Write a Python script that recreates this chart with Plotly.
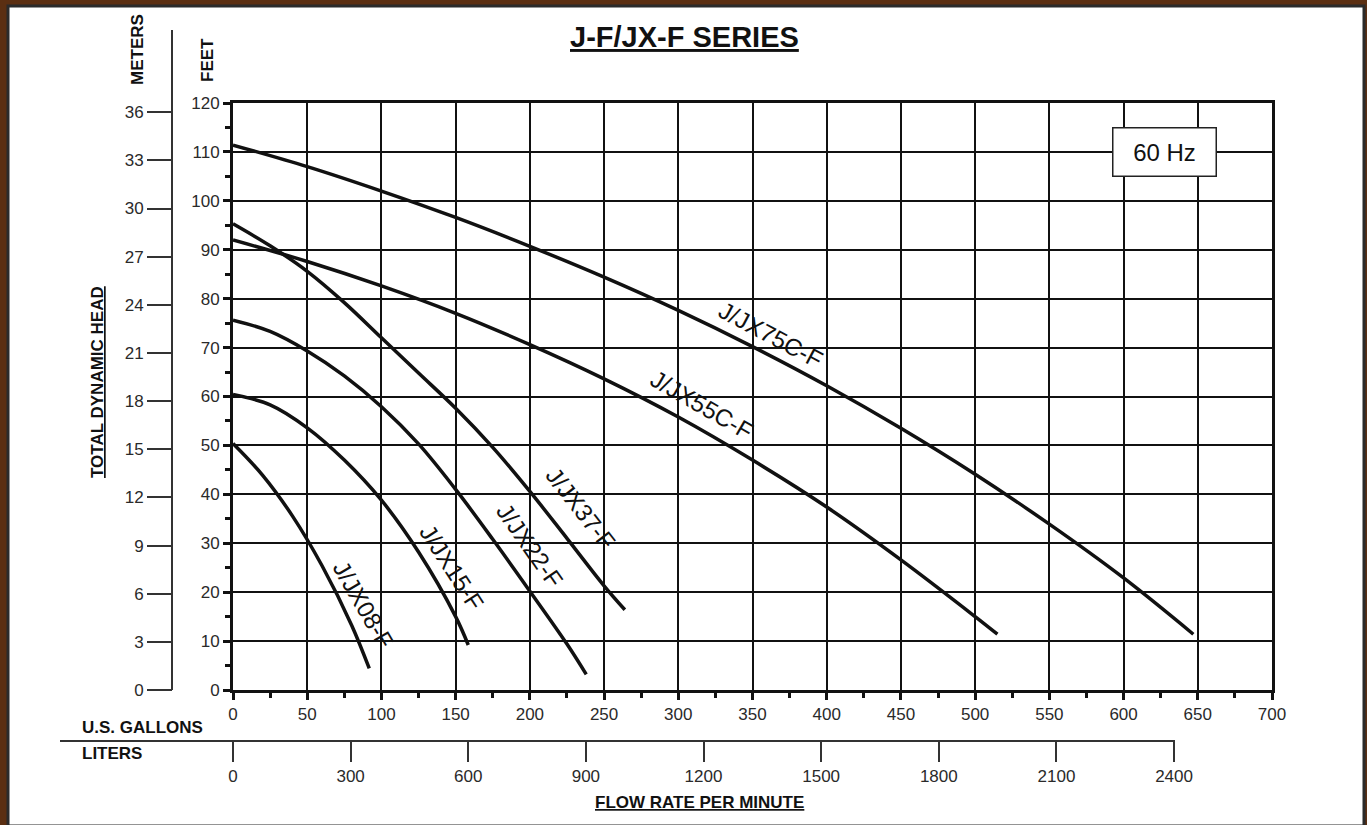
import plotly.graph_objects as go

# ---------------- data (US gallons per minute vs feet of head) ----------------
gal_75c = [0, 50, 100, 150, 200, 250, 300, 350, 400, 450, 500, 550, 600, 647]
ft_75c = [111.4, 107.0, 102.0, 96.6, 90.7, 84.4, 77.6, 70.2, 62.2, 53.5, 44.1, 33.9, 22.9, 11.4]

gal_55c = [0, 50, 100, 150, 200, 250, 300, 350, 400, 450, 500, 515]
ft_55c = [92.0, 87.6, 82.6, 77.0, 70.6, 63.6, 55.8, 47.0, 37.4, 26.6, 15.0, 11.4]

gal_37 = [0, 25, 50, 75, 100, 125, 150, 175, 200, 225, 250, 264]
ft_37 = [95.3, 90.8, 85.6, 79.2, 72.0, 64.8, 57.6, 49.6, 40.6, 31.0, 21.3, 16.4]

gal_22 = [0, 25, 50, 75, 100, 125, 150, 175, 200, 225, 238]
ft_22 = [75.6, 73.3, 69.3, 64.2, 57.9, 50.3, 41.0, 30.8, 20.2, 9.4, 3.2]

gal_15 = [0, 25, 50, 75, 100, 125, 150, 158.5]
ft_15 = [60.4, 58.3, 53.6, 47.0, 38.8, 28.2, 15.0, 9.2]

gal_08 = [0, 20, 40, 60, 80, 91.8]
ft_08 = [50.4, 43.9, 35.6, 25.4, 13.2, 4.4]

curve_names = ["J/JX75C-F", "J/JX55C-F", "J/JX37-F", "J/JX22-F", "J/JX15-F", "J/JX08-F"]
label_gal = [361.8, 315.3, 234.5, 200.1, 147.5, 87.6]
label_ft = [72.6, 58.3, 37.2, 29.6, 25.1, 17.4]
label_angle = [28, 30, 52, 55, 57, 60]

feet_ticks = list(range(0, 121, 10))
gal_ticks = list(range(0, 701, 50))
meter_ticks = list(range(0, 37, 3))
liter_ticks = list(range(0, 2401, 300))

FT_PER_M = 3.28084
L_PER_GAL = 3.785411784

# ---------------- layout geometry (pixels) ----------------
W, H = 1367, 825
PL, PR, PT, PB = 172, 1272, 103, 741          # paper box
AX_X0, AX_Y0 = 233, 690                        # plot area left / bottom
pw, ph = PR - PL, PB - PT


def px(x):
    return (x - PL) / pw


def py(y):
    return (PB - y) / ph


FONT = "Liberation Sans, Arial, sans-serif"
BLACK = "#111111"
TXT = "#2a2a2a"

fig = go.Figure()
curves = [(gal_75c, ft_75c), (gal_55c, ft_55c), (gal_37, ft_37),
          (gal_22, ft_22), (gal_15, ft_15), (gal_08, ft_08)]
for (g, f), name in zip(curves, curve_names):
    fig.add_trace(go.Scatter(x=g, y=f, mode="lines", name=name,
                             line=dict(color=BLACK, width=3.5, shape="spline", smoothing=1.0),
                             showlegend=False, hoverinfo="skip"))

# dummy traces to activate the meter and liter axes
fig.add_trace(go.Scatter(x=[None], y=[None], yaxis="y2", showlegend=False))
fig.add_trace(go.Scatter(x=[None], y=[None], xaxis="x2", showlegend=False))

xdom0 = (AX_X0 - PL) / pw
ydom0 = (PB - AX_Y0) / ph

fig.update_layout(
    width=W, height=H,
    margin=dict(l=PL, r=W - PR, t=PT, b=H - PB, pad=0),
    paper_bgcolor="#5b2f12",
    plot_bgcolor="white",
    font=dict(family=FONT, color=TXT, size=17),
    xaxis=dict(domain=[xdom0, 1], range=[0, 700], tickvals=gal_ticks,
               showgrid=True, gridcolor=BLACK, gridwidth=2,
               showline=True, linecolor=BLACK, linewidth=3, mirror=True,
               ticks="outside", ticklen=7, tickwidth=3, tickcolor=BLACK,
               minor=dict(dtick=25, tick0=0, ticks="outside", ticklen=5, tickwidth=3,
                          tickcolor=BLACK, showgrid=False),
               zeroline=False, tickfont=dict(size=17, color=TXT), anchor="y"),
    yaxis=dict(domain=[ydom0, 1], range=[0, 120], tickvals=feet_ticks,
               showgrid=True, gridcolor=BLACK, gridwidth=2,
               showline=True, linecolor=BLACK, linewidth=3, mirror=True,
               ticks="outside", ticklen=7, tickwidth=3, tickcolor=BLACK,
               minor=dict(dtick=5, tick0=0, ticks="outside", ticklen=5, tickwidth=3,
                          tickcolor=BLACK, showgrid=False),
               zeroline=False, tickfont=dict(size=17, color=TXT), anchor="x"),
    yaxis2=dict(overlaying="y", anchor="free", position=0, side="left",
                range=[0, 120 / FT_PER_M], tickvals=meter_ticks,
                showgrid=False, showline=False, zeroline=False,
                ticks="outside", ticklen=25, tickwidth=2, tickcolor="#333",
                tickfont=dict(size=17, color=TXT)),
    xaxis2=dict(overlaying="x", anchor="free", position=0, side="bottom",
                range=[0, 700 * L_PER_GAL], tickvals=liter_ticks,
                showgrid=False, showline=False, zeroline=False,
                ticks="outside", ticklen=20, tickwidth=2, tickcolor="#333",
                tickfont=dict(size=17, color=TXT)),
)

shapes = [
    # white sheet inside the brown frame
    dict(type="rect", xref="paper", yref="paper", layer="below",
         x0=px(8), x1=px(1364), y0=py(826), y1=py(6),
         fillcolor="white", line=dict(color="#2b2b2b", width=3)),
    # meter axis line (extends above plot)
    dict(type="line", xref="paper", yref="paper", x0=0, x1=0, y0=py(AX_Y0), y1=py(30),
         line=dict(color="#333", width=2)),
    # liters axis line
    dict(type="line", xref="paper", yref="paper", x0=px(60), x1=px(1175), y0=0, y1=0,
         line=dict(color="#333", width=2)),
]
fig.update_layout(shapes=shapes)

ann = []
for name, gx, fy, ang in zip(curve_names, label_gal, label_ft, label_angle):
    ann.append(dict(x=gx, y=fy, xref="x", yref="y", text=name, showarrow=False,
                    xanchor="center", yanchor="middle",
                    textangle=ang, font=dict(size=24, color=BLACK, family=FONT)))


def paper_text(x, y, text, size=17, angle=0, xanchor="center"):
    return dict(x=px(x), y=py(y), xref="paper", yref="paper", showarrow=False,
                xanchor=xanchor, yanchor="middle", text=text, textangle=angle,
                font=dict(size=size, color=BLACK))


ann += [
    paper_text(684, 37, "<b><u>J-F/JX-F SERIES</u></b>", size=29),
    dict(x=627.5, y=109.9, xref="x", yref="y", showarrow=False, text="60 Hz",
         xanchor="center", yanchor="middle",
         font=dict(size=24, color=BLACK), bgcolor="white", bordercolor="#222",
         borderwidth=1.5, width=100, height=45),
    paper_text(137, 50, "<b>METERS</b>", angle=-90),
    paper_text(207, 60, "<b>FEET</b>", angle=-90),
    paper_text(97, 382, "<b><u>TOTAL DYNAMIC HEAD</u></b>", angle=-90),
    paper_text(80, 727, "<b>U.S. GALLONS</b>", xanchor="left"),
    paper_text(80, 753, "<b>LITERS</b>", xanchor="left"),
    paper_text(699, 802, "<b><u>FLOW RATE PER MINUTE</u></b>"),
]
fig.update_layout(annotations=ann)

fig.write_html("out.html", config={"displayModeBar": False},
               post_script="document.body.style.margin='0';document.body.style.overflow='hidden';")
